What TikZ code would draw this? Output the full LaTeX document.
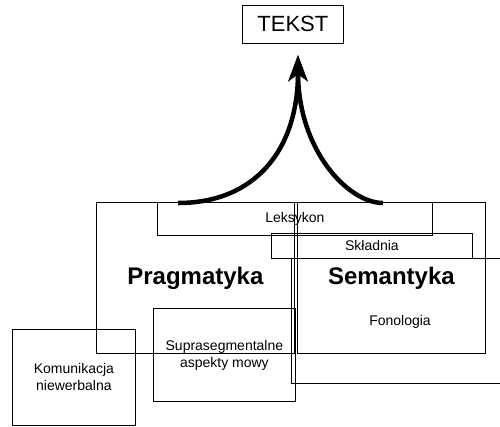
\documentclass[tikz,border=0pt]{standalone}
\usepackage{fontspec}
\setmainfont{Liberation Sans}
\usetikzlibrary{arrows.meta}

\begin{document}
\begin{tikzpicture}[x=1pt, y=-1pt,
area/.style={draw, line width=0.8pt, inner sep=0pt, anchor=north west, align=center, font=\fontsize{14}{17}\selectfont},
bigname/.style={font=\fontsize{24}{28}\selectfont\bfseries},
arrow/.style={line width=4.5pt, -{Stealth[length=26pt, width=19pt, inset=7pt]}}
]
\useasboundingbox (0,0) rectangle (500,426);
\node[area, minimum width=101pt, minimum height=38pt, font=\fontsize{22}{26}\selectfont] (tekst) at (242,5) {TEKST};
\node[area, bigname, minimum width=198pt, minimum height=151pt] (prag) at (96,202) {Pragmatyka};
\node[area, bigname, minimum width=188pt, minimum height=151pt] (sem) at (297,202) {Semantyka};
\node[area, minimum width=214pt, minimum height=125pt] (rest) at (291,258) {};
\node[area, minimum width=275pt, minimum height=33pt] (leks) at (157,202) {Leksykon};
\node[area, minimum width=201pt, minimum height=25pt] (skl) at (271,233) {Składnia};
\node[area, minimum width=142pt, minimum height=93pt] (supra) at (153,308) {Suprasegmentalne\\aspekty mowy};
\node[area, minimum width=123pt, minimum height=96pt] (kom) at (12,329) {Komunikacja\\niewerbalna};
\node[font=\fontsize{14}{17}\selectfont] (fonol) at (400,322) {Fonologia};

% two strands joining into one arrow
\coordinate (lfoot) at (178,203);
\coordinate (rfoot) at (383,203);
\coordinate (tip) at (298,55);
\draw[arrow] (lfoot) .. controls (255,203) and (298,150) .. (tip);
\draw[arrow] (rfoot) .. controls (348,203) and (298,150) .. (tip);
\end{tikzpicture}
\end{document}
